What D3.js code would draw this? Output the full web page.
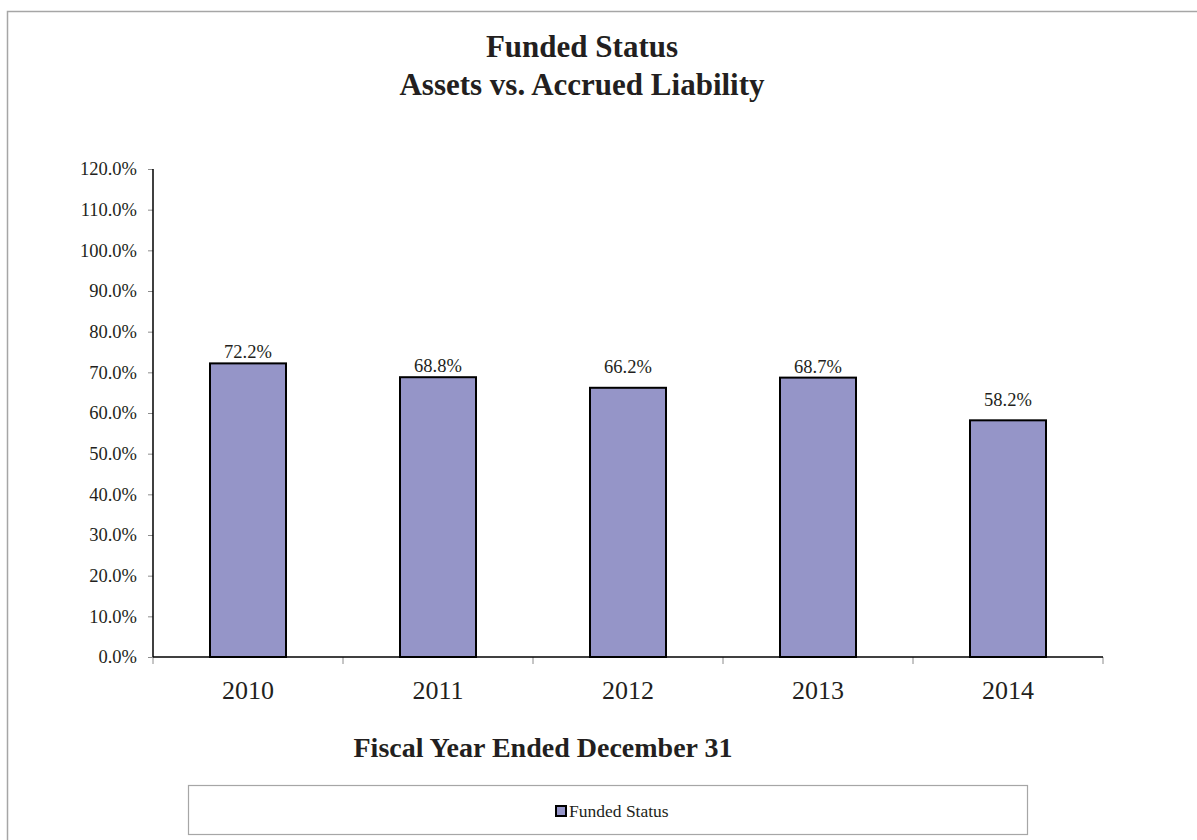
<!DOCTYPE html>
<html>
<head>
<meta charset="utf-8">
<script src="https://cdn.jsdelivr.net/npm/d3@7"></script>
<style>
  html, body { margin: 0; padding: 0; background: #fff; }
  svg { display: block; }
  text { font-family: "Liberation Serif", "Times New Roman", serif; fill: #231f20; }
</style>
</head>
<body>
<svg id="chart" width="1197" height="840"></svg>
<script>
// Funded ratio by fiscal year
const years = ["2010", "2011", "2012", "2013", "2014"];
const fundedStatus = [72.2, 68.8, 66.2, 68.7, 58.2];
const yTicks = [0, 10, 20, 30, 40, 50, 60, 70, 80, 90, 100, 110, 120];
const titleLines = ["Funded Status", "Assets vs. Accrued Liability"];
const xTitle = "Fiscal Year Ended December 31";
const seriesName = "Funded Status";
// extra lift for labels that sit higher above their bars
const labelLift = [0, 0, 10, 0, 9];

const svg = d3.select("#chart");
const W = 1197, H = 840;
const plot = { left: 153, right: 1103, top: 169, bottom: 657 };
const barFill = "#9595c8";

// outer chart frame (runs off the right and bottom edges)
svg.append("rect")
  .attr("x", 7.5).attr("y", 11.5)
  .attr("width", W).attr("height", H)
  .attr("fill", "none").attr("stroke", "#a6a6a6").attr("stroke-width", 1.5);

// title
const title = svg.append("text")
  .attr("text-anchor", "middle")
  .style("font-weight", "bold").style("font-size", "31px");
titleLines.forEach((t, i) => {
  title.append("tspan").attr("x", 582).attr("y", 57 + i * 38).text(t);
});

const x = d3.scaleBand().domain(years)
  .range([plot.left, plot.right])
  .paddingInner(0.6).paddingOuter(0.3);
const y = d3.scaleLinear().domain([0, 120]).range([plot.bottom, plot.top]);

// y axis
const yAxis = d3.axisLeft(y).tickValues(yTicks)
  .tickFormat(d => d3.format(".1f")(d) + "%")
  .tickSize(5).tickPadding(11);
const gy = svg.append("g").attr("transform", `translate(${plot.left},0)`).call(yAxis);
gy.select(".domain").remove();
gy.selectAll(".tick line").attr("stroke", "#8c8c8c");
gy.selectAll(".tick text").style("font-size", "18.5px").attr("fill", "#231f20");
svg.append("line")
  .attr("x1", plot.left).attr("x2", plot.left)
  .attr("y1", y(120)).attr("y2", y(0))
  .attr("stroke", "#000").attr("stroke-width", 1.5);

// x axis: ticks between categories
const step = x.step();
const bounds = years.map(d => x(d) - (step - x.bandwidth()) / 2);
bounds.push(bounds[bounds.length - 1] + step);
svg.append("g").selectAll("line").data(bounds).join("line")
  .attr("x1", d => d).attr("x2", d => d)
  .attr("y1", plot.bottom).attr("y2", plot.bottom + 7)
  .attr("stroke", "#8c8c8c");

// bars
svg.append("g").selectAll("rect").data(years).join("rect")
  .attr("x", d => x(d))
  .attr("y", (d, i) => y(fundedStatus[i]))
  .attr("width", x.bandwidth())
  .attr("height", (d, i) => y(0) - y(fundedStatus[i]))
  .attr("fill", barFill).attr("stroke", "#000").attr("stroke-width", 2);

svg.append("line")
  .attr("x1", plot.left).attr("x2", plot.right)
  .attr("y1", plot.bottom).attr("y2", plot.bottom)
  .attr("stroke", "#000").attr("stroke-width", 1.5);

// value labels
svg.append("g").selectAll("text").data(years).join("text")
  .attr("x", d => x(d) + x.bandwidth() / 2)
  .attr("y", (d, i) => y(fundedStatus[i]) - 5 - labelLift[i])
  .attr("text-anchor", "middle")
  .style("font-size", "18.5px")
  .text((d, i) => d3.format(".1f")(fundedStatus[i]) + "%");

// category labels
svg.append("g").selectAll("text").data(years).join("text")
  .attr("x", d => x(d) + x.bandwidth() / 2)
  .attr("y", 699)
  .attr("text-anchor", "middle")
  .style("font-size", "26px")
  .text(d => d);

// x axis title
svg.append("text")
  .attr("x", 543).attr("y", 757)
  .attr("text-anchor", "middle")
  .style("font-weight", "bold").style("font-size", "28px")
  .text(xTitle);

// legend
const lg = svg.append("g");
lg.append("rect")
  .attr("x", 188.5).attr("y", 785.5).attr("width", 839).attr("height", 49)
  .attr("fill", "#fff").attr("stroke", "#a6a6a6").attr("stroke-width", 1.2);
lg.append("rect")
  .attr("x", 556).attr("y", 806).attr("width", 10).attr("height", 10)
  .attr("fill", barFill).attr("stroke", "#000").attr("stroke-width", 2);
lg.append("text")
  .attr("x", 569).attr("y", 817)
  .style("font-size", "17.5px")
  .text(seriesName);
</script>
</body>
</html>
